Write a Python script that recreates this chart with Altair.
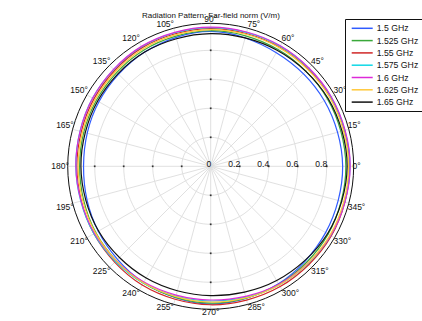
import altair as alt
import pandas as pd
import numpy as np

# ---- data ----
freqs = ["1.5 GHz", "1.525 GHz", "1.55 GHz", "1.575 GHz", "1.6 GHz", "1.625 GHz", "1.65 GHz"]
colors = ["#2f5bff", "#3aa83a", "#d02828", "#10d8e6", "#dd2ad8", "#ffc83a", "#111111"]
angles = [0, 30, 60, 90, 120, 150, 180, 210, 240, 270, 300, 330]
r_1500 = [0.910, 0.905, 0.905, 0.930, 0.910, 0.890, 0.877, 0.895, 0.925, 0.950, 0.935, 0.915]
r_1525 = [0.932, 0.930, 0.930, 0.935, 0.925, 0.910, 0.904, 0.915, 0.930, 0.943, 0.940, 0.935]
r_1550 = [0.958, 0.955, 0.950, 0.950, 0.945, 0.930, 0.923, 0.930, 0.945, 0.955, 0.958, 0.960]
r_1575 = [0.960, 0.958, 0.957, 0.957, 0.952, 0.940, 0.930, 0.930, 0.930, 0.929, 0.945, 0.955]
r_1600 = [0.962, 0.960, 0.960, 0.960, 0.955, 0.940, 0.930, 0.925, 0.922, 0.922, 0.940, 0.955]
r_1625 = [0.951, 0.948, 0.945, 0.943, 0.935, 0.920, 0.914, 0.918, 0.928, 0.936, 0.945, 0.950]
r_1650 = [0.941, 0.935, 0.922, 0.915, 0.910, 0.900, 0.895, 0.893, 0.890, 0.892, 0.910, 0.930]
radii = [r_1500, r_1525, r_1550, r_1575, r_1600, r_1625, r_1650]

ring_values = [0.2, 0.4, 0.6, 0.8]
radial_labels = ["0", "0.2", "0.4", "0.6", "0.8"]
radial_label_values = [0, 0.2, 0.4, 0.6, 0.8]
angle_ticks = list(range(0, 360, 15))
r_max = 0.986
title = "Radiation Pattern: Far-field norm (V/m)"

FONT = "Liberation Sans"
GRID = "#dcdcdc"

# ---- tables ----
curve_df = pd.DataFrame(
    [{"freq": f, "angle": a, "r": r} for f, rs in zip(freqs, radii) for a, r in zip(angles, rs)]
)
ring_df = pd.DataFrame([{"r": r, "angle": a} for r in ring_values for a in angle_ticks])
frame_df = pd.DataFrame([{"r": r_max, "angle": a} for a in angle_ticks])
spoke_df = pd.DataFrame([{"angle": a, "r": r_max} for a in angle_ticks])
tick_df = pd.DataFrame([{"r": r, "angle": a} for r in ring_values for a in [0, 90, 180, 270]])
rlab_df = pd.DataFrame({"r": radial_label_values, "label": radial_labels})


def label_align(a):
    c = np.cos(np.radians(a))
    s = np.sin(np.radians(a))
    ha = "left" if c > 0.01 else ("right" if c < -0.01 else "center")
    va = "bottom" if s > 0.01 else ("top" if s < -0.01 else "middle")
    return ha, va


alab_rows = []
for a in angle_ticks:
    ha, va = label_align(a)
    alab_rows.append({"angle": a, "r": 0.978, "label": f"{a}°", "ha": ha, "va": va})
alab_df = pd.DataFrame(alab_rows)

# ---- scales: 145 px per unit, centre at (210.7, 166.3) in a 422x321 view ----
U = 145.0
cx, cy = 210.7, 166.3
W, H = 422, 321
xs = alt.Scale(domain=[-cx / U, (W - cx) / U], nice=False, zero=False)
ys = alt.Scale(domain=[-(H - cy) / U, cy / U], nice=False, zero=False)
X = alt.X("x:Q", scale=xs, axis=None)
Y = alt.Y("y:Q", scale=ys, axis=None)

XC = "datum.r*cos(datum.angle*PI/180)"
YC = "datum.r*sin(datum.angle*PI/180)"

rings = alt.Chart(ring_df).transform_calculate(x=XC, y=YC).mark_line(
    interpolate="cardinal-closed", color=GRID, strokeWidth=0.9
).encode(x=X, y=Y, detail="r:N", order="angle:Q")

spokes = alt.Chart(spoke_df).transform_calculate(
    x="0", y="0", x2=XC, y2=YC
).mark_rule(color=GRID, strokeWidth=0.9).encode(x=X, y=Y, x2="x2:Q", y2="y2:Q")

frame = alt.Chart(frame_df).transform_calculate(x=XC, y=YC).mark_line(
    interpolate="cardinal-closed", color="#111111", strokeWidth=1.0
).encode(x=X, y=Y, order="angle:Q")

ticks = alt.Chart(tick_df).transform_calculate(x=XC, y=YC).mark_point(
    shape="square", filled=True, size=3, color="#333333", opacity=1
).encode(x=X, y=Y)

curves = alt.Chart(curve_df).transform_calculate(x=XC, y=YC).mark_line(
    interpolate="cardinal-closed", strokeWidth=1.2
).encode(
    x=X,
    y=Y,
    order="angle:Q",
    color=alt.Color(
        "freq:N",
        scale=alt.Scale(domain=freqs, range=colors),
        sort=freqs,
        legend=alt.Legend(
            title=None,
            orient="none",
            legendX=345,
            legendY=19,
            fillColor="white",
            strokeColor="#111111",
            padding=3.8,
            cornerRadius=0,
            symbolType="M-0.578,0H4.09",
            symbolSize=81,
            symbolStrokeWidth=1.5,
            labelFont=FONT,
            labelFontSize=8.7,
            labelColor="#111111",
            labelOffset=16.9,
            rowPadding=1.3,
        ),
    ),
)

rlabels = alt.Chart(rlab_df).transform_calculate(x="datum.r", y="0").mark_text(
    align="right", baseline="alphabetic", dx=0.5, dy=0.5, font=FONT, fontSize=8.5, color="#111111"
).encode(x=X, y=Y, text="label:N")

alayers = []
for (ha, va), g in alab_df.groupby(["ha", "va"]):
    alayers.append(
        alt.Chart(g).transform_calculate(x=XC, y=YC).mark_text(
            align=ha, baseline=va, font=FONT, fontSize=8.5, color="#111111"
        ).encode(x=X, y=Y, text="label:N")
    )

chart = alt.layer(rings, spokes, ticks, rlabels, *alayers, curves, frame).properties(
    width=W,
    height=H,
    autosize="none",
    padding=0,
    title=alt.TitleParams(
        text=title, fontSize=8, fontWeight="normal", font=FONT, color="#111111",
        anchor="middle", offset=-20,
    ),
).configure_view(stroke=None)

chart.save("out.html", embed_options={"renderer": "svg", "actions": False})
